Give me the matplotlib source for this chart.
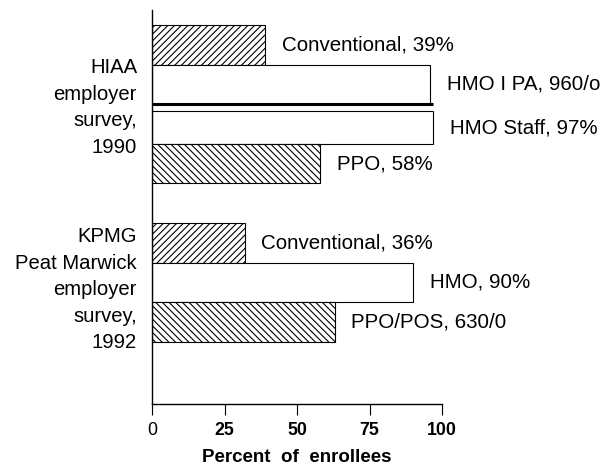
import matplotlib
matplotlib.use("Agg")
import matplotlib.pyplot as plt
import matplotlib.transforms as mtransforms

plt.rcParams["font.family"] = ["Liberation Sans", "DejaVu Sans"]
plt.rcParams["hatch.linewidth"] = 0.8

# data
group_names = ["HIAA\nemployer\nsurvey,\n1990",
               "KPMG\nPeat Marwick\nemployer\nsurvey,\n1992"]
hiaa_plans = ["Conventional", "HMO IPA", "HMO Staff", "PPO"]
hiaa_values = [39, 96, 97, 58]
hiaa_labels = ["Conventional, 39%", "HMO I PA, 960/o", "HMO Staff, 97%", "PPO, 58%"]
kpmg_plans = ["Conventional", "HMO", "PPO/POS"]
kpmg_values = [32, 90, 63]
kpmg_labels = ["Conventional, 36%", "HMO, 90%", "PPO/POS, 630/0"]
xticks = [0, 25, 50, 75, 100]


def hatch_for(plan):
    if plan.startswith("Conventional"):
        return "/////"
    if plan.startswith("PPO"):
        return "\\\\\\\\\\"
    return None


fig = plt.figure(figsize=(6.04, 4.69), dpi=100)
ax = fig.add_axes([152 / 604, 1 - 404 / 469, 290 / 604, 394 / 469])

groups = [(hiaa_plans, hiaa_values, hiaa_labels), (kpmg_plans, kpmg_values, kpmg_labels)]
top = 0.38
for name, (plans, values, labels) in zip(group_names, groups):
    start = top
    for i, (plan, val, lab) in enumerate(zip(plans, values, labels)):
        y = start + i
        h = 1.0
        if plan == "HMO Staff":
            # drawn slightly shorter below the separator line
            y, h = y + 0.18, 0.82
        ax.barh(y, val, height=h, align="edge", color="white",
                edgecolor="black", linewidth=0.8, hatch=hatch_for(plan))
        ax.annotate(lab, (val, y + h / 2), xytext=(12, 0),
                    textcoords="offset points", va="center", ha="left",
                    fontsize=14.8, annotation_clip=False)
        if plan == "HMO IPA":
            ax.hlines(y + 1, 0, max(values[i], values[i + 1]),
                      color="black", linewidth=2.2)
    nlines = name.count("\n") + 1
    center = start + len(plans) / 2 + 0.08 + 0.1 * (nlines - 4)
    trans = mtransforms.blended_transform_factory(ax.transAxes, ax.transData)
    ax.text(-15 / 290, center, name, transform=trans, ha="right", va="center",
            multialignment="right", fontsize=14.6, linespacing=1.5)
    top = start + len(plans) + 1

ax.set_xlim(0, 100)
ax.set_ylim(9.95, 0)
ax.spines["top"].set_visible(False)
ax.spines["right"].set_visible(False)
ax.spines["left"].set_linewidth(1.0)
ax.spines["bottom"].set_linewidth(1.0)
ax.set_yticks([])
ax.set_xticks(xticks)
ax.set_xticklabels([str(t) for t in xticks])
ax.tick_params(axis="x", direction="out", length=8, width=0.8, labelsize=12.8, pad=5)
for t, lab in zip(xticks, ax.get_xticklabels()):
    lab.set_fontweight("normal" if t == 0 else "bold")
ax.set_xlabel("Percent  of  enrollees", fontsize=13.5, fontweight="bold", labelpad=7)

fig.savefig("out.png", dpi=100)
